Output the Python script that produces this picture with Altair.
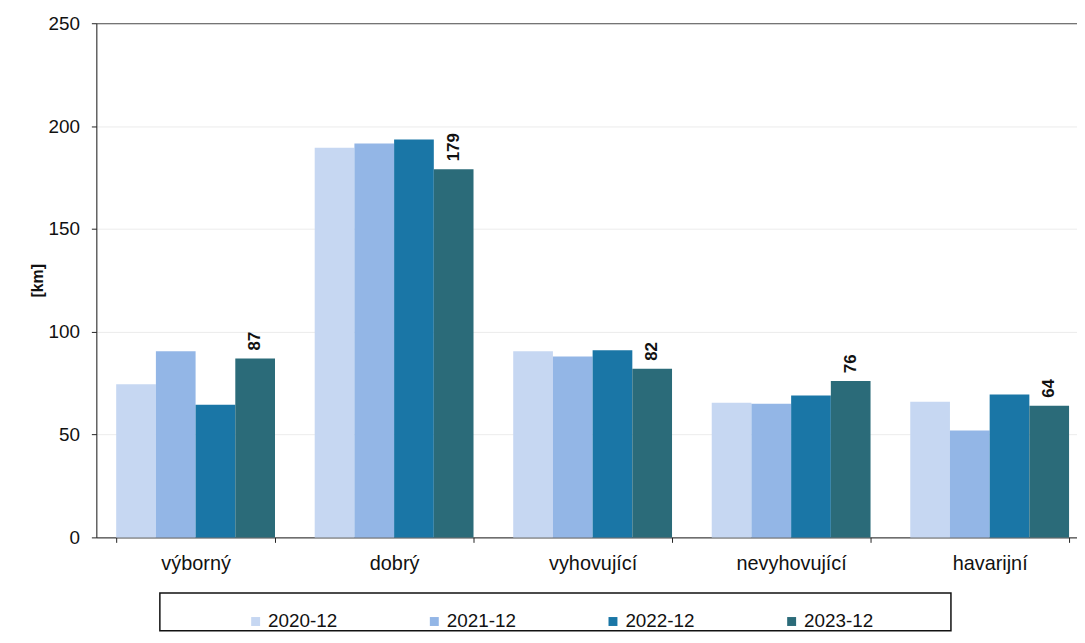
import altair as alt
import pandas as pd

categories = ["výborný", "dobrý", "vyhovující", "nevyhovující", "havarijní"]
years = ["2020-12", "2021-12", "2022-12", "2023-12"]
v2020 = [74.5, 189.5, 90.5, 65.5, 66]
v2021 = [90.5, 191.5, 88, 65, 52]
v2022 = [64.5, 193.5, 91, 69, 69.5]
v2023 = [87, 179, 82, 76, 64]
labels_2023 = ["87", "179", "82", "76", "64"]
colors = ["#c6d7f2", "#93b6e6", "#1a76a6", "#2b6b79"]
y_ticks = [0, 50, 100, 150, 200, 250]

rows = []
for yr, vals in zip(years, [v2020, v2021, v2022, v2023]):
    for c, v in zip(categories, vals):
        rows.append({"kat": c, "rok": yr, "km": v})
df = pd.DataFrame(rows)
lab = pd.DataFrame({"kat": categories, "rok": ["2023-12"] * len(categories),
                    "km": v2023, "lab": labels_2023})

FONT = "Liberation Sans"

x = alt.X(
    "kat:N", sort=categories, title=None,
    scale=alt.Scale(range=[0, 1000], paddingInner=0.2, paddingOuter=0.1),
    axis=alt.Axis(labelAngle=0, tickBand="extent", labelFontSize=20, labelPadding=11,
                  tickSize=5, domainColor="#222", tickColor="#222", labelColor="#111",
                  labelFont=FONT),
)
xo = alt.XOffset("rok:N", sort=years, scale=alt.Scale(paddingInner=0, paddingOuter=0))
y = alt.Y(
    "km:Q", scale=alt.Scale(domain=[0, 250]),
    axis=alt.Axis(values=y_ticks, title="[km]", titleFontWeight="bold", titleFontSize=16,
                  titlePadding=3, titleColor="#111", titleFont=FONT,
                  labelFontSize=19, labelPadding=12, labelColor="#111", labelFont=FONT,
                  tickSize=5, tickColor="#222", domainColor="#222",
                  gridColor={"condition": {"test": "datum.value === 250", "value": "#555"},
                             "value": "#ececec"}),
)

bars = alt.Chart(df).mark_bar(strokeWidth=0).encode(
    x=x, xOffset=xo, y=y,
    color=alt.Color(
        "rok:N", sort=years, scale=alt.Scale(domain=years, range=colors),
        legend=alt.Legend(title=None, orient="none", legendX=151, legendY=593,
                          direction="horizontal", symbolType="square", symbolSize=81,
                          symbolStrokeWidth=0, labelFontSize=19, labelOffset=3,
                          columnPadding=88, padding=0, labelColor="#111", labelFont=FONT),
    ),
)

texts = alt.Chart(lab).mark_text(
    angle=270, align="left", baseline="middle", dx=8, fontSize=17,
    fontWeight="bold", font=FONT, color="#111",
).encode(x=x, xOffset=xo, y=y, text="lab:N")

box = alt.Chart(pd.DataFrame({"a": [0]})).mark_rect(
    fillOpacity=0, stroke="#111", strokeWidth=1.5
).encode(x=alt.value(64), x2=alt.value(861), y=alt.value(574), y2=alt.value(612))

chart = alt.layer(bars, texts, box).properties(
    width=988, height=518, autosize="none",
    padding={"left": 89, "top": 13, "right": 0, "bottom": 96},
).configure_view(strokeWidth=0).configure(font=FONT)

chart.save("out.html", embed_options={"renderer": "svg", "actions": False})
